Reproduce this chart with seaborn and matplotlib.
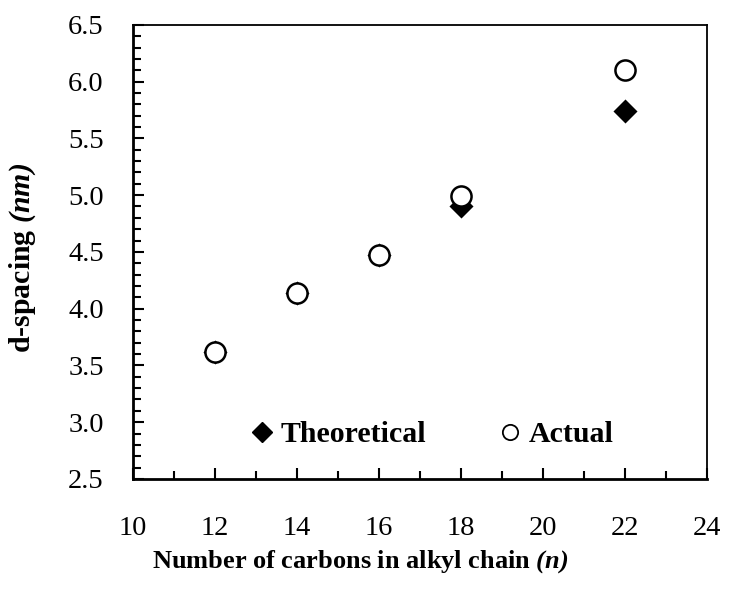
import matplotlib
matplotlib.use("Agg")
import matplotlib.pyplot as plt
from matplotlib.ticker import MultipleLocator, FormatStrFormatter
from matplotlib.lines import Line2D
import seaborn as sns
import pandas as pd

# Carbon count of the alkyl chain and measured / calculated d-spacings (nm)
carbons = [12, 14, 16, 18, 22]
theoretical = [3.62, 4.14, 4.47, 4.90, 5.74]
actual = [3.62, 4.14, 4.47, 4.99, 6.10]

sns.set_theme(style="white")
plt.rcParams["font.family"] = ["Liberation Serif", "DejaVu Serif"]
plt.rcParams["text.color"] = "black"
plt.rcParams["axes.labelcolor"] = "black"
plt.rcParams["mathtext.fontset"] = "custom"
plt.rcParams["mathtext.rm"] = "Liberation Serif"
plt.rcParams["mathtext.it"] = "Liberation Serif:italic"
plt.rcParams["mathtext.bf"] = "Liberation Serif:bold"
plt.rcParams["mathtext.bfit"] = "Liberation Serif:italic:bold"

df = pd.DataFrame({"n": carbons, "Theoretical": theoretical, "Actual": actual})

fig = plt.figure(figsize=(7.35, 5.92), dpi=100)
ax = fig.add_axes([0.181, 0.191, 0.781, 0.767])

sns.scatterplot(data=df, x="n", y="Theoretical", marker="D", s=150,
                color="black", edgecolor="black", linewidth=0, ax=ax, zorder=3)
sns.scatterplot(data=df, x="n", y="Actual", marker="o", s=210,
                facecolor="white", edgecolor="black", linewidth=1.8, ax=ax, zorder=4)

ax.set_xlim(10, 24)
ax.set_ylim(2.5, 6.5)
ax.xaxis.set_major_locator(MultipleLocator(2))
ax.xaxis.set_minor_locator(MultipleLocator(1))
ax.yaxis.set_major_locator(MultipleLocator(0.5))
ax.yaxis.set_minor_locator(MultipleLocator(0.1))
ax.yaxis.set_major_formatter(FormatStrFormatter("%.1f"))

ax.tick_params(which="both", direction="in", top=False, right=False,
               bottom=True, left=True, colors="black", labelsize=20.5)
ax.tick_params(which="major", length=8, width=1.5)
ax.tick_params(which="minor", length=5.5, width=1.5)
ax.tick_params(axis="x", pad=27)
ax.tick_params(axis="y", pad=21)

for side in ["left", "bottom", "top", "right"]:
    ax.spines[side].set_visible(True)
    ax.spines[side].set_color("black")
ax.spines["left"].set_linewidth(2.0)
ax.spines["bottom"].set_linewidth(2.0)
ax.spines["top"].set_linewidth(1.3)
ax.spines["right"].set_linewidth(1.3)

ax.set_xlabel(r"Number of carbons in alkyl chain $\mathbfit{(n)}$",
              fontsize=19, fontweight="bold", color="black")
ax.set_ylabel(r"d-spacing $\mathbfit{(nm)}$",
              fontsize=21.5, fontweight="bold", color="black")
ax.xaxis.set_label_coords(0.395, -0.152)
ax.yaxis.set_label_coords(-0.165, 0.487)

handles = [
    Line2D([], [], linestyle="none", marker="D", markersize=10,
           markerfacecolor="black", markeredgecolor="black"),
    Line2D([], [], linestyle="none", marker="o", markersize=11,
           markerfacecolor="white", markeredgecolor="black", markeredgewidth=1.3),
]
leg = ax.legend(handles, ["Theoretical", "Actual"], ncol=2, frameon=False,
                loc="center left", bbox_to_anchor=(0.1995, 0.097),
                borderpad=0, borderaxespad=0,
                prop={"family": "Liberation Serif", "weight": "bold", "size": 21.5},
                handletextpad=0.12, columnspacing=2.3, handlelength=1.0)
for t in leg.get_texts():
    t.set_color("black")

fig.savefig("out.png", dpi=100, facecolor="white")
